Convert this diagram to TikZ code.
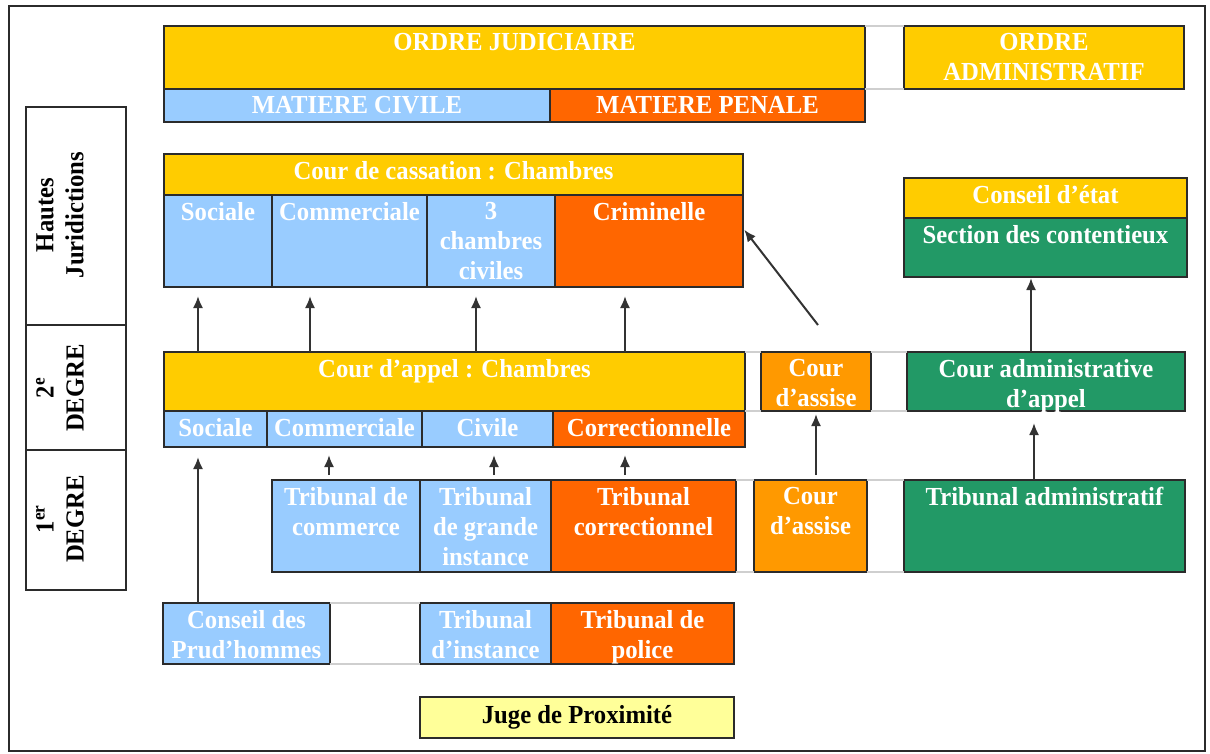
\documentclass[tikz,border=0pt]{standalone}
\usepackage{fontspec}
\setmainfont{Liberation Serif}[FakeStretch=0.95]
\usetikzlibrary{arrows.meta,calc}
\definecolor{cyel}{HTML}{FFCC00}
\definecolor{cblue}{HTML}{99CCFF}
\definecolor{cred}{HTML}{FF6600}
\definecolor{corange}{HTML}{FF9900}
\definecolor{cgreen}{HTML}{229966}
\definecolor{clyel}{HTML}{FFFF99}
\definecolor{cline}{HTML}{2B2B2B}
\definecolor{cgap}{HTML}{CFCFCF}
\tikzset{
 cellb/.style={draw=cline, line width=1.5pt, inner sep=0pt, outer sep=0pt, rectangle},
 celltext/.style={anchor=north, inner sep=0pt, yshift=-7pt, text=white, align=center, font={\fontsize{26pt}{30pt}\selectfont\bfseries}},
 sidetext/.style={rotate=90, inner sep=0pt, align=center, text=black, font={\fontsize{26pt}{30pt}\selectfont\bfseries}},
 gapline/.style={draw=cgap, line width=1.5pt},
 arr/.style={draw=black!80, line width=2pt, -{Latex[length=12pt,width=10pt]}},
}
\newcommand\cellbox[7]{\node[cellb,#6,minimum width={(#4-#2)*1pt},minimum height={(#5-#3)*1pt},label={[celltext]north:{#7}}] (#1) at ({(#2+#4)/2},{(#3+#5)/2}) {};}
\begin{document}
\begin{tikzpicture}[x=1pt,y=-1pt]
\useasboundingbox (0,0) rectangle (1210,754);
\draw[line width=1.2pt, draw=cline] (9,6) rectangle (1205,751);
% header
\cellbox{oj}{164}{26}{865}{89}{fill=cyel}{ORDRE JUDICIAIRE}
\cellbox{mc}{164}{89}{550}{122}{fill=cblue}{MATIERE CIVILE}
\cellbox{mp}{550}{89}{865}{122}{fill=cred}{MATIERE PENALE}
\cellbox{oa}{904}{26}{1184}{89}{fill=cyel}{ORDRE\\ADMINISTRATIF}
\draw[gapline] (oj.north east) -- (oa.north west);
\draw[gapline] (oj.south east) -- (oa.south west);
% side column
\node[cellb, fill=white, minimum width=100pt, minimum height=218pt] (sh) at (76,216) {};
\node[cellb, fill=white, minimum width=100pt, minimum height=125pt] (s2) at (76,387.5) {};
\node[cellb, fill=white, minimum width=100pt, minimum height=140pt] (s1) at (76,520) {};
\node[sidetext] (tsh) at (60,215) {Hautes\\Juridictions};
\node[sidetext] (ts2) at (60,388) {2\textsuperscript{e}\\DEGRE};
\node[sidetext] (ts1) at (60,519) {1\textsuperscript{er}\\DEGRE};
% cassation
\cellbox{cc}{164}{154}{743}{195}{fill=cyel}{Cour de cassation : Chambres}
\cellbox{cssoc}{164}{195}{272}{287}{fill=cblue}{Sociale}
\cellbox{cscom}{272}{195}{427}{287}{fill=cblue}{Commerciale}
\cellbox{csciv}{427}{195}{555}{287}{fill=cblue}{3\\chambres\\civiles}
\cellbox{cscrim}{555}{195}{743}{287}{fill=cred}{Criminelle}
\cellbox{ce}{904}{178}{1187}{218}{fill=cyel}{Conseil d’état}
\cellbox{sec}{904}{218}{1187}{277}{fill=cgreen}{Section des contentieux}
% appel
\cellbox{ap}{164}{352}{745}{411}{fill=cyel}{Cour d’appel : Chambres}
\cellbox{apsoc}{164}{411}{267}{447}{fill=cblue}{Sociale}
\cellbox{apcom}{267}{411}{422}{447}{fill=cblue}{Commerciale}
\cellbox{apciv}{422}{411}{553}{447}{fill=cblue}{Civile}
\cellbox{apcor}{553}{411}{745}{447}{fill=cred}{Correctionnelle}
\cellbox{caa}{761}{352}{871}{411}{fill=corange}{Cour\\d’assise}
\cellbox{cad}{907}{352}{1185}{411}{fill=cgreen}{Cour administrative\\d’appel}
\draw[gapline] (ap.north east) -- (caa.north west);
\draw[gapline] (caa.north east) -- (cad.north west);
\draw[gapline] (ap.south east) -- (caa.south west);
\draw[gapline] (caa.south east) -- (cad.south west);
% premier degre
\cellbox{tc}{272}{480}{420}{572}{fill=cblue}{Tribunal de\\commerce}
\cellbox{tgi}{420}{480}{551}{572}{fill=cblue}{Tribunal\\de grande\\instance}
\cellbox{tco}{551}{480}{736}{572}{fill=cred}{Tribunal\\correctionnel}
\cellbox{cab}{754}{480}{867}{572}{fill=corange}{Cour\\d’assise}
\cellbox{ta}{904}{480}{1185}{572}{fill=cgreen}{Tribunal administratif}
\draw[gapline] (tco.north east) -- (cab.north west);
\draw[gapline] (cab.north east) -- (ta.north west);
\draw[gapline] (tco.south east) -- (cab.south west);
\draw[gapline] (cab.south east) -- (ta.south west);
% bottom row
\cellbox{cph}{163}{603}{330}{664}{fill=cblue}{Conseil des\\Prud’hommes}
\cellbox{ti}{420}{603}{551}{664}{fill=cblue}{Tribunal\\d’instance}
\cellbox{tp}{551}{603}{734}{664}{fill=cred}{Tribunal de\\police}
\draw[gapline] (cph.north east) -- (ti.north west);
\draw[gapline] (cph.south east) -- (ti.south west);
\node[cellb, fill=clyel, minimum width=314pt, minimum height=41pt, text=black, font={\fontsize{26pt}{30pt}\selectfont\bfseries}] (jp) at (577,717.5) {Juge de Proximité};
% arrows
\draw[arr, shorten >=9pt] (ap.north -| 198,0) -- (cssoc.south -| 198,0);
\draw[arr, shorten >=9pt] (ap.north -| 310,0) -- (cscom.south -| 310,0);
\draw[arr, shorten >=9pt] (ap.north -| 476,0) -- (csciv.south -| 476,0);
\draw[arr, shorten >=9pt] (ap.north -| 625,0) -- (cscrim.south -| 625,0);
\coordinate (dtail) at (818,325);
\draw[arr, shorten >=2pt] (dtail) -- ($(cscrim.north east)!0.36!(cscrim.south east)$);
\draw[arr, shorten >=1pt] (cad.north -| 1031,0) -- (sec.south -| 1031,0);
\draw[arr, shorten >=10pt] (cph.north -| 198,0) -- (apsoc.south -| 198,0);
\draw[arr, shorten <=5pt, shorten >=8pt] (tc.north -| 329,0) -- (apcom.south -| 329,0);
\draw[arr, shorten <=5pt, shorten >=8pt] (tgi.north -| 494,0) -- (apciv.south -| 494,0);
\draw[arr, shorten <=5pt, shorten >=8pt] (tco.north -| 625,0) -- (apcor.south -| 625,0);
\draw[arr, shorten <=5pt, shorten >=3pt] (cab.north -| 816,0) -- (caa.south -| 816,0);
\draw[arr, shorten >=12pt] (ta.north -| 1034,0) -- (cad.south -| 1034,0);
\end{tikzpicture}
\end{document}
